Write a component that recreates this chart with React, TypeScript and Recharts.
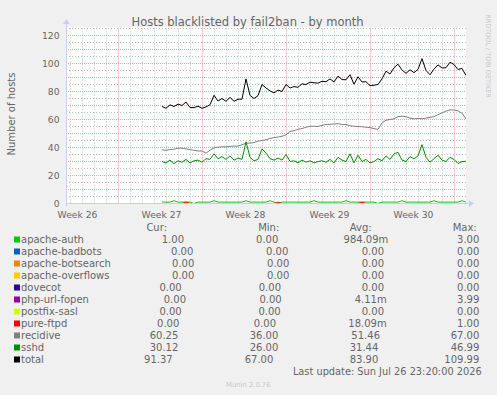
import React from 'react';
import { LineChart, Line, XAxis, YAxis, CartesianGrid, ReferenceLine } from 'recharts';

// time axis is in days counted from Sun 2026-06-21 00:00, one sample every 8 hours
const RANGE_START = 2.625;
const RANGE_END = 35.958;
const FIRST_SAMPLE = 10.625;
const SAMPLE_STEP = 1 / 3;

const apacheAuth = [
  1, 1, 1, 2, 1, 1, 1, 1, 0, 1, 1, 1, 1, 2, 1, 1, 1, 1, 1, 1,
  1, 2, 1, 1, 1, 1, 1, 2, 1, 0, 1, 1, 1, 1, 1, 1, 1, 1, 2, 1,
  1, 1, 1, 1, 1, 1, 2, 1, 1, 1, 1, 1, 1, 1, 0, 1, 1, 1, 1, 1,
  2, 1, 1, 1, 1, 1, 1, 1, 2, 1, 1, 1, 1, 1, 1, 2, 1,
];
const pureFtpd = [
  0, 0, 0, 0, 0, 0, 1, 0, 0, 0, 0, 0, 0, 0, 0, 0, 0, 0, 0, 0,
  0, 0, 0, 0, 0, 0, 0, 0, 0, 1, 0, 0, 0, 0, 0, 0, 0, 0, 0, 0,
  0, 0, 0, 0, 0, 0, 0, 0, 0, 0, 1, 0, 0, 0, 0, 0, 0, 0, 0, 0,
  0, 0, 0, 0, 0, 0, 0, 0, 0, 0, 0, 0, 0, 0, 0, 0, 0,
];
const recidive = [
  38.3, 38, 38.5, 38.8, 39.5, 39.5, 39, 38.5, 38, 37.5,
  37.5, 36, 38, 39.8, 40.2, 40.5, 40.5, 40.8, 41, 41,
  42, 43, 43.2, 43.5, 44.5, 45, 45.5, 46.5, 47, 47.5,
  48, 49, 51.5, 52, 53, 53.5, 54.5, 55.2, 55.2, 55,
  55.8, 56.5, 56.5, 56.8, 57, 56.5, 56.4, 55.5, 55.2, 55,
  54.8, 54.5, 54.2, 53.5, 53, 57.5, 59.5, 60, 60.5, 62,
  62.4, 62, 61, 60.5, 60.8, 60.5, 61, 61.5, 62, 63.5,
  64.8, 66, 66.9, 66.8, 66.2, 64.5, 60.25,
];
const sshd = [
  30, 29, 31, 28.5, 30.5, 29.5, 31.5, 29, 30.5, 31,
  29.5, 32, 31.5, 35.5, 32, 33.5, 31.5, 34, 31, 32.5,
  31.5, 44, 33, 30.5, 31.5, 39, 36, 32, 31, 32.5,
  31, 35, 30, 30.5, 29, 31, 29.5, 30.5, 29, 30,
  30.5, 29.5, 31.5, 29, 33, 31, 30, 35.5, 29, 34.5,
  30, 31.5, 29, 30, 32, 30.5, 34, 31.5, 35.5, 36.5,
  31, 30, 33.5, 32, 34, 42, 33, 29.5, 32, 34.5,
  31, 30, 33, 31.5, 28.5, 30, 30.12,
];
const total = [
  69.3, 68, 70.5, 69.3, 71, 70, 72.5, 68.5, 68.5, 69.5,
  68, 69, 70.5, 77.3, 73.2, 75, 73, 75.8, 73, 74.5,
  74.5, 89, 77.2, 75, 77, 85, 82.5, 80.5, 79, 81,
  80, 85, 82.5, 83.5, 83, 85.5, 85, 86.7, 86.2, 86,
  87.3, 87, 89, 86.8, 91, 88.5, 88.4, 92, 85.2, 90.5,
  86.8, 87, 84.2, 84.5, 85, 89, 94.5, 92.5, 97, 99.5,
  95.4, 93, 95.5, 93.5, 95.8, 103.5, 95, 92, 96, 99,
  96.8, 97, 100.9, 99.3, 95.7, 96.5, 91.37,
];

const weekTicks = [3.5, 10.5, 17.5, 24.5, 31.5];
const weekLabels = ['Week 26', 'Week 27', 'Week 28', 'Week 29', 'Week 30'];
const yTicks = [0, 10, 20, 30, 40, 50, 60, 70, 80, 90, 100, 110, 120];

const legendNames = [
  'apache-auth', 'apache-badbots', 'apache-botsearch', 'apache-overflows', 'dovecot',
  'php-url-fopen', 'postfix-sasl', 'pure-ftpd', 'recidive', 'sshd', 'total',
];
const legendColors = [
  '#00CC00', '#0066B3', '#FF8000', '#FFCC00', '#330099',
  '#990099', '#CCFF00', '#FF0000', '#808080', '#008F00', '#000000',
];
const curValues = ['1.00', '0.00', '0.00', '0.00', '0.00', '0.00', '0.00', '0.00', '60.25', '30.12', '91.37'];
const minValues = ['0.00', '0.00', '0.00', '0.00', '0.00', '0.00', '0.00', '0.00', '36.00', '26.00', '67.00'];
const avgValues = ['984.09m', '0.00', '0.00', '0.00', '0.00', '4.11m', '0.00', '18.09m', '51.46', '31.44', '83.90'];
const maxValues = ['3.00', '0.00', '0.00', '0.00', '0.00', '3.99', '0.00', '1.00', '67.00', '46.99', '109.99'];

// rrdtool justifies every legend line on its own, so columns drift per row
const curRight = [184, 193.3, 194.3, 194.3, 181.7, 186, 181.7, 179.3, 178.3, 178.3, 172.7];
const minRight = [278.3, 288.3, 289.3, 289.3, 281, 281.7, 280.7, 276, 278.3, 278.3, 273.3];
const avgRight = [388.3, 384, 384, 384, 384, 386.7, 384, 386.7, 380, 378.3, 378.3];
const maxRight = 479.3;

const W = 497;
const H = 395;
const PLOT_LEFT = 66;
const PLOT_RIGHT = 466;
const PLOT_BOTTOM = 203.5;
const PLOT_TOP = 27.1;
const Y_AXIS_W = 60;
const X_AXIS_H = 20;

const FONT = '"DejaVu Sans", Verdana, sans-serif';
const TEXT = '#666';
const AXIS = '#C8D0F2';

const chartData = sshd.map((v, i) => ({
  day: FIRST_SAMPLE + i * SAMPLE_STEP,
  apacheAuth: apacheAuth[i],
  pureFtpd: pureFtpd[i],
  recidive: recidive[i],
  sshd: v,
  total: total[i],
}));

// grid: gray every 5 hosts / every day, red every 10 hosts / every week
const minorH: number[] = [];
const majorH: number[] = [];
for (let v = 5; v <= 125; v += 5) (v % 10 === 0 ? majorH : minorH).push(v);
const minorV: number[] = [];
const majorV: number[] = [];
for (let d = 3; d <= 35; d++) (d % 7 === 0 ? majorV : minorV).push(d);

const WeekTick = ({ x, payload }: any) => (
  <text x={x + 1} y={PLOT_BOTTOM + 14} textAnchor="middle" fontSize={9.2} fontFamily={FONT} fill={TEXT}>
    {weekLabels[weekTicks.indexOf(payload.value)]}
  </text>
);

const ValueTick = ({ y, payload }: any) => (
  <text x={PLOT_LEFT - 6.5} y={y + 3.3} textAnchor="end" fontSize={9.2} fontFamily={FONT} fill={TEXT}>
    {payload.value}
  </text>
);

export default function App() {
  return (
    <div style={{ position: 'absolute', left: 0, top: 0, width: W, height: H, background: '#F0F0F0' }}>
      <LineChart
        width={W}
        height={H}
        data={chartData}
        margin={{
          top: PLOT_TOP,
          right: W - PLOT_RIGHT,
          bottom: H - PLOT_BOTTOM - X_AXIS_H,
          left: PLOT_LEFT - Y_AXIS_W,
        }}
      >
        <CartesianGrid fill="#FFFFFF" horizontal={false} vertical={false} />
        <XAxis
          type="number"
          dataKey="day"
          domain={[RANGE_START, RANGE_END]}
          ticks={weekTicks}
          tick={<WeekTick />}
          axisLine={false}
          tickLine={false}
          height={X_AXIS_H}
          allowDataOverflow
        />
        <YAxis
          type="number"
          domain={[0, 126]}
          ticks={yTicks}
          tick={<ValueTick />}
          axisLine={false}
          tickLine={false}
          width={Y_AXIS_W}
          allowDataOverflow
        />
        {minorH.map((v) => (
          <ReferenceLine key={`mh${v}`} y={v} stroke="#BDBDBD" strokeDasharray="1 2" />
        ))}
        {minorV.map((d) => (
          <ReferenceLine key={`mv${d}`} x={d} stroke="#BDBDBD" strokeDasharray="1 2" />
        ))}
        {majorH.map((v) => (
          <ReferenceLine key={`MH${v}`} y={v} stroke="#EBA0A0" strokeDasharray="1 1" />
        ))}
        {majorV.map((d) => (
          <ReferenceLine key={`MV${d}`} x={d} stroke="#EBA0A0" strokeDasharray="1 1" />
        ))}
        <Line dataKey="apacheAuth" stroke="#00CC00" strokeWidth={1} dot={false} isAnimationActive={false} />
        <Line dataKey="pureFtpd" stroke="#FF0000" strokeWidth={1} dot={false} isAnimationActive={false} />
        <Line dataKey="recidive" stroke="#808080" strokeWidth={1} dot={false} isAnimationActive={false} />
        <Line dataKey="sshd" stroke="#008F00" strokeWidth={1} dot={false} isAnimationActive={false} />
        <Line dataKey="total" stroke="#000000" strokeWidth={1} dot={false} isAnimationActive={false} />
      </LineChart>

      <svg
        width={W}
        height={H}
        style={{ position: 'absolute', left: 0, top: 0, pointerEvents: 'none' }}
        fontFamily={FONT}
      >
        {/* axes with arrow heads, drawn over the zero lines */}
        <line x1={PLOT_LEFT} y1={PLOT_BOTTOM} x2={PLOT_RIGHT + 3} y2={PLOT_BOTTOM} stroke={AXIS} />
        <line x1={PLOT_LEFT + 0.5} y1={PLOT_BOTTOM + 3} x2={PLOT_LEFT + 0.5} y2={24} stroke={AXIS} />
        <path d={`M${PLOT_RIGHT + 3} ${PLOT_BOTTOM - 3.5} L${PLOT_RIGHT + 8} ${PLOT_BOTTOM} L${PLOT_RIGHT + 3} ${PLOT_BOTTOM + 3.5} Z`} fill={AXIS} />
        <path d={`M${PLOT_LEFT - 3} 24 L${PLOT_LEFT + 0.5} 19 L${PLOT_LEFT + 4} 24 Z`} fill={AXIS} />

        <text x={247.5} y={26} textAnchor="middle" fontSize={11.5} fill={TEXT}>
          Hosts blacklisted by fail2ban - by month
        </text>
        <text x={11} y={114} transform="rotate(-90 11 114)" textAnchor="middle" dominantBaseline="central" fontSize={10} fill={TEXT}>
          Number of hosts
        </text>
        <text x={487.5} y={56} transform="rotate(90 487.5 56)" textAnchor="middle" dominantBaseline="central" fontSize={6.5} fill="#C8C8C8">
          RRDTOOL / TOBI OETIKER
        </text>

        <g fontSize={10} fill={TEXT}>
          <text x={167} y={231} textAnchor="end">Cur:</text>
          <text x={279.3} y={231} textAnchor="end">Min:</text>
          <text x={371.7} y={231} textAnchor="end">Avg:</text>
          <text x={476.7} y={231} textAnchor="end">Max:</text>
          {legendNames.map((name, i) => {
            const y = 243 + i * 12;
            return (
              <g key={name}>
                <rect x={14} y={y - 6.5} width={6} height={6} fill={legendColors[i]} />
                <text x={21} y={y}>{name}</text>
                <text x={curRight[i]} y={y} textAnchor="end">{curValues[i]}</text>
                <text x={minRight[i]} y={y} textAnchor="end">{minValues[i]}</text>
                <text x={avgRight[i]} y={y} textAnchor="end">{avgValues[i]}</text>
                <text x={maxRight} y={y} textAnchor="end">{maxValues[i]}</text>
              </g>
            );
          })}
          <text x={481.7} y={374.8} textAnchor="end" fontSize={9.8}>
            Last update: Sun Jul 26 23:20:00 2026
          </text>
        </g>
        <text x={248.3} y={387} textAnchor="middle" fontSize={6.8} fill="#C8C8C8">
          Munin 2.0.76
        </text>
      </svg>
    </div>
  );
}
